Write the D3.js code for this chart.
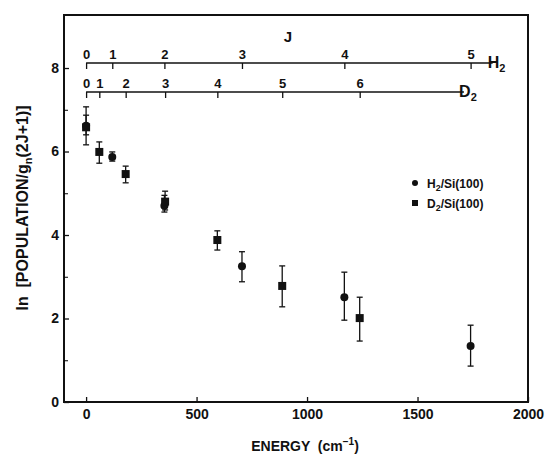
<!DOCTYPE html>
<html>
<head>
<meta charset="utf-8">
<script src="https://cdn.jsdelivr.net/npm/d3@7"></script>
<style>
  body { margin: 0; background: #fff; }
  svg text { font-family: "Liberation Sans", Arial, Helvetica, sans-serif; fill: #111; white-space: pre; }
</style>
</head>
<body>
<div id="svg_area"></div>
<script>
// rotational level energies (cm-1) used for the J scales on top
var h2J = [0, 1, 2, 3, 4, 5];
var h2Levels = [0, 118.5, 354.4, 705.5, 1168.8, 1740.2];
var d2J = [0, 1, 2, 3, 4, 5, 6];
var d2Levels = [0, 59.8, 179.1, 357.6, 594.0, 887.6, 1238.3];

// measured populations, ln scale, with error bar ends
var h2Pop = [6.62, 5.87, 4.70, 3.25, 2.51, 1.34];
var h2Low = [6.16, 5.77, 4.55, 2.88, 1.96, 0.86];
var h2High = [7.07, 5.99, 4.95, 3.60, 3.11, 1.84];

var d2Pop = [6.58, 5.99, 5.46, 4.80, 3.88, 2.78, 2.01];
var d2Low = [6.40, 5.72, 5.25, 4.60, 3.64, 2.28, 1.46];
var d2High = [6.87, 6.23, 5.65, 5.05, 4.10, 3.26, 2.51];

var xTicks = [0, 500, 1000, 1500, 2000];
var yTicks = [0, 2, 4, 6, 8];
var yMinor = [1, 3, 5, 7];

// where the J scale lines stop
var h2ScaleEnd = 1840;
var d2ScaleEnd = 1710;

var svg = d3.select('#svg_area').append('svg')
  .attr('width', 545).attr('height', 457);

var x = d3.scaleLinear().domain([-100, 2000]).range([64, 528]);
var y = d3.scaleLinear().domain([0, 9.27]).range([402, 15]);

// frame
svg.append('rect')
  .attr('x', x(-100)).attr('y', y(9.27))
  .attr('width', x(2000) - x(-100)).attr('height', y(0) - y(9.27))
  .attr('fill', 'none').attr('stroke', '#111').attr('stroke-width', 2);

var xAxis = svg.append('g')
  .attr('transform', 'translate(0,' + y(0) + ')')
  .call(d3.axisBottom(x).tickValues(xTicks).tickSizeInner(-5).tickSizeOuter(0).tickPadding(7).tickFormat(d3.format('d')));

var yAxis = svg.append('g')
  .attr('transform', 'translate(' + x(-100) + ',0)')
  .call(d3.axisLeft(y).tickValues(yTicks).tickSizeInner(-5).tickSizeOuter(0).tickPadding(5).tickFormat(d3.format('d')));

svg.append('g')
  .attr('transform', 'translate(' + x(-100) + ',0)')
  .call(d3.axisLeft(y).tickValues(yMinor).tickSizeInner(-4).tickSizeOuter(0).tickFormat(''))
  .select('.domain').remove();

[xAxis, yAxis].forEach(function(a) {
  a.select('.domain').remove();
  a.selectAll('line').attr('stroke', '#111').attr('stroke-width', 1.3);
  a.selectAll('text').attr('font-size', 14).attr('font-weight', 'bold').attr('fill', '#111');
});

// J scales
function jScale(levels, labels, endE, yPos, name) {
  var g = svg.append('g').attr('transform', 'translate(0,' + yPos + ')');
  g.call(d3.axisTop(x).tickValues(levels).tickSizeInner(-6).tickSizeOuter(0).tickPadding(4)
    .tickFormat(function(d, i) { return labels[i]; }));
  g.select('.domain').remove();
  g.selectAll('line').attr('stroke', '#111').attr('stroke-width', 1.3);
  g.selectAll('text').attr('font-size', 13).attr('font-weight', 'bold').attr('fill', '#111');
  g.append('line')
    .attr('x1', x(0)).attr('x2', x(endE))
    .attr('stroke', '#111').attr('stroke-width', 1.3);
  var t = g.append('text')
    .attr('x', x(endE) + 4).attr('y', 5)
    .attr('font-size', 16).attr('font-weight', 'bold')
    .text(name);
  t.append('tspan').attr('font-size', 11).attr('dy', 4).text('2');
}

jScale(h2Levels, h2J, h2ScaleEnd, 63, 'H');
jScale(d2Levels, d2J, d2ScaleEnd, 92, 'D');

svg.append('text')
  .attr('x', 288).attr('y', 42)
  .attr('text-anchor', 'middle')
  .attr('font-size', 15).attr('font-weight', 'bold')
  .text('J');

// error bars
function errorBars(levels, pop, lo, hi) {
  var g = svg.append('g').attr('stroke', '#111').attr('stroke-width', 1.3);
  levels.forEach(function(e, i) {
    g.append('line').attr('x1', x(e)).attr('x2', x(e)).attr('y1', y(lo[i])).attr('y2', y(hi[i]));
    g.append('line').attr('x1', x(e) - 3).attr('x2', x(e) + 3).attr('y1', y(lo[i])).attr('y2', y(lo[i]));
    g.append('line').attr('x1', x(e) - 3).attr('x2', x(e) + 3).attr('y1', y(hi[i])).attr('y2', y(hi[i]));
  });
}

errorBars(h2Levels, h2Pop, h2Low, h2High);
errorBars(d2Levels, d2Pop, d2Low, d2High);

svg.append('g').selectAll('circle')
  .data(h2Levels)
  .enter().append('circle')
  .attr('cx', function(d) { return x(d); })
  .attr('cy', function(d, i) { return y(h2Pop[i]); })
  .attr('r', 4)
  .attr('fill', '#111');

svg.append('g').selectAll('rect')
  .data(d2Levels)
  .enter().append('rect')
  .attr('x', function(d) { return x(d) - 4; })
  .attr('y', function(d, i) { return y(d2Pop[i]) - 4; })
  .attr('width', 8).attr('height', 8)
  .attr('fill', '#111');

// legend
svg.append('circle').attr('cx', 415).attr('cy', 183).attr('r', 3).attr('fill', '#111');
svg.append('rect').attr('x', 412).attr('y', 200).attr('width', 6).attr('height', 6).attr('fill', '#111');

function legendText(yPos, el) {
  var t = svg.append('text').attr('x', 427).attr('y', yPos)
    .attr('font-size', 12).attr('font-weight', 'bold').text(el);
  t.append('tspan').attr('font-size', 9).attr('dy', 3).text('2');
  t.append('tspan').attr('dy', -3).text('/Si(100)');
}
legendText(188, 'H');
legendText(208, 'D');

// axis titles
var xt = svg.append('text')
  .attr('x', 305).attr('y', 451)
  .attr('text-anchor', 'middle')
  .attr('font-size', 14).attr('font-weight', 'bold')
  .text('ENERGY  (cm');
xt.append('tspan').attr('font-size', 10).attr('dy', -6).text('−1');
xt.append('tspan').attr('dy', 6).text(')');

var yt = svg.append('text')
  .attr('transform', 'translate(28,208) rotate(-90)')
  .attr('text-anchor', 'middle')
  .attr('font-size', 16).attr('font-weight', 'bold')
  .text('ln  [POPULATION/g');
yt.append('tspan').attr('font-size', 11).attr('dy', 4).text('n');
yt.append('tspan').attr('dy', -4).text('(2J+1)]');
</script>
</body>
</html>
